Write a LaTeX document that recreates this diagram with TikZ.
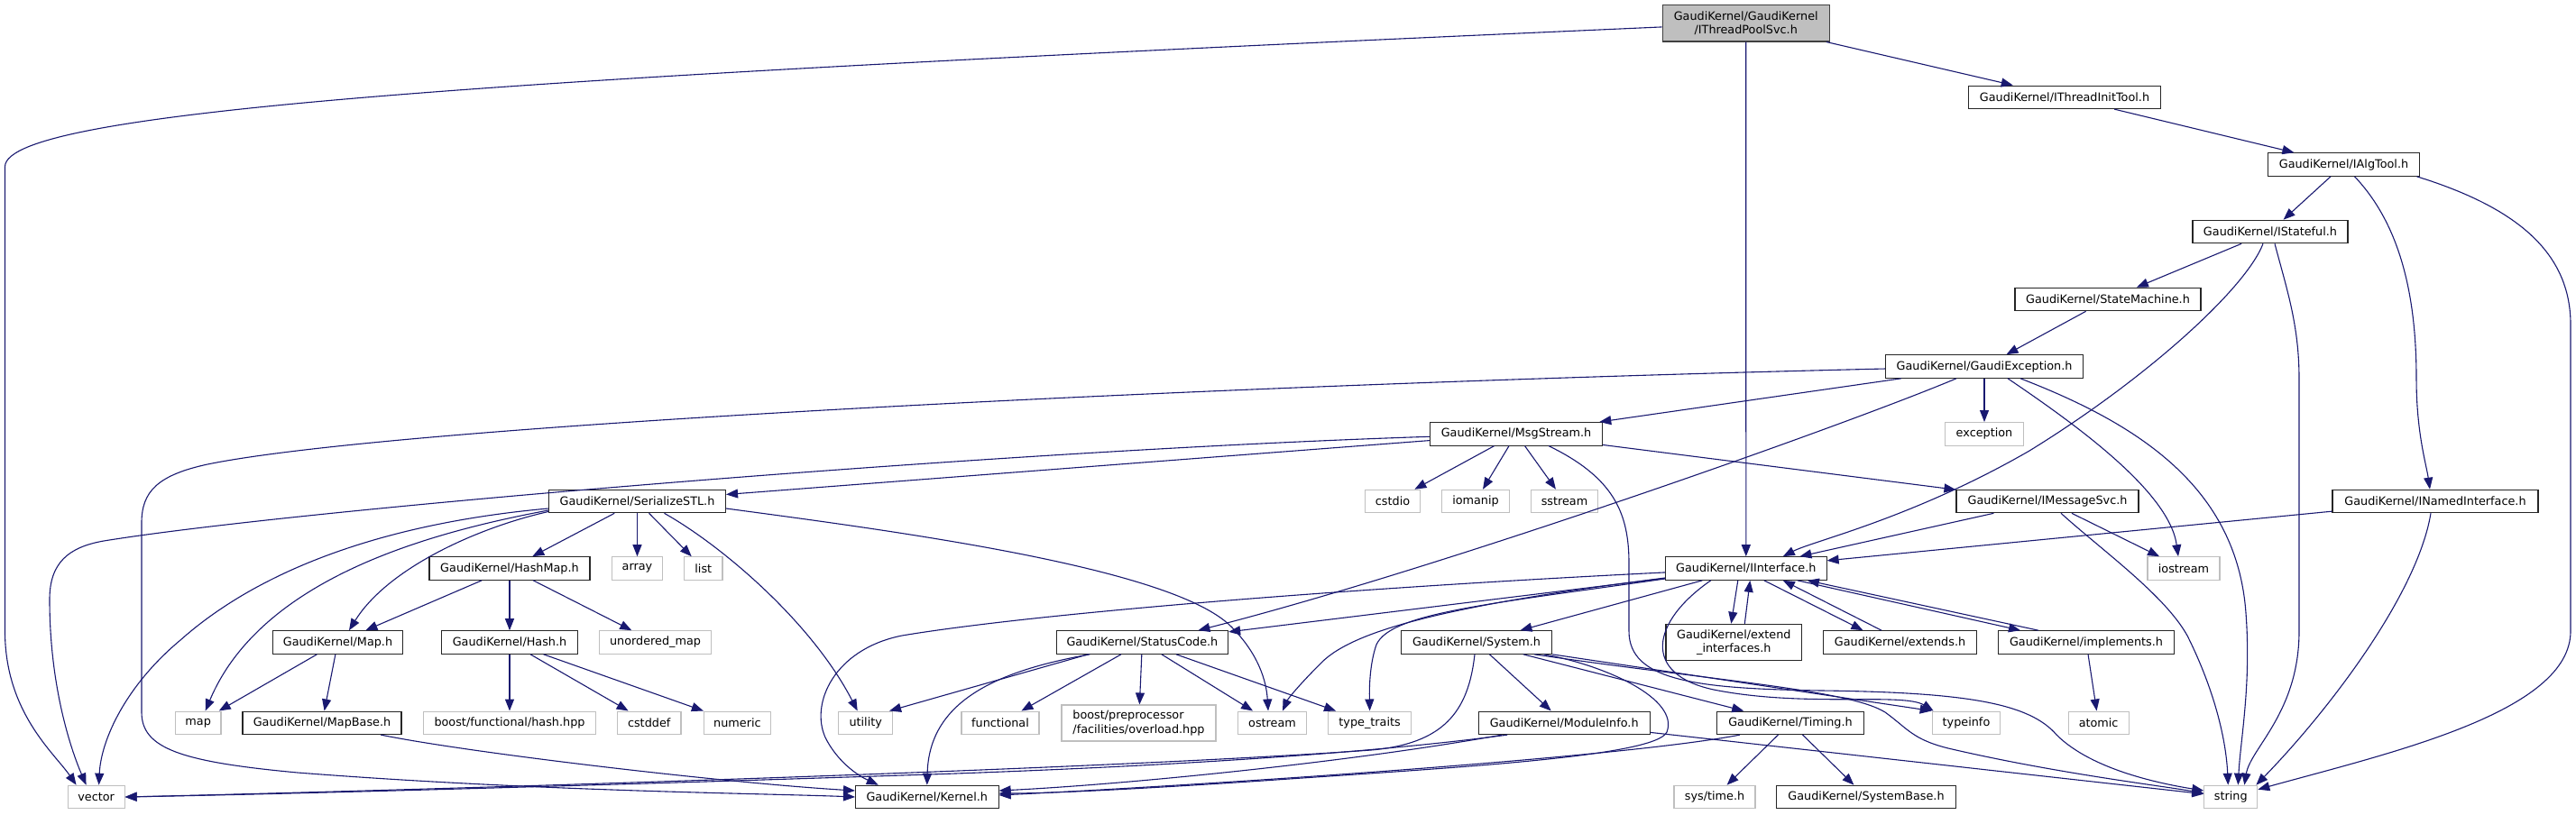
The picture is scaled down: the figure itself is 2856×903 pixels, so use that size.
\documentclass[tikz,border=0pt]{standalone}
\usepackage{fontspec}
\setmainfont{DejaVu Sans}
\usetikzlibrary{arrows.meta}
\definecolor{edgecol}{HTML}{191970}
\definecolor{mainfill}{HTML}{BFBFBF}
\definecolor{mainborder}{HTML}{404040}
\definecolor{grayborder}{HTML}{BFBFBF}
\begin{document}
\begin{tikzpicture}[x=1pt,y=-1pt,
  nb/.style={draw=black!85, line width=1.1pt, fill=white, inner sep=0pt, minimum height=25.5pt, text=black, font=\fontsize{12.8}{15.3}\selectfont},
  ng/.style={nb, draw=grayborder},
  conn/.style={draw=edgecol, line width=1.1pt, -{Triangle[length=13pt,width=10pt]}}]
\useasboundingbox (0,0) rectangle (2856,903);
% nodes
\node[nb, fill=mainfill, draw=mainborder, minimum width=185pt, minimum height=40.3pt, align=center] (TP) at (1935.7,25.8) {GaudiKernel/GaudiKernel\\/IThreadPoolSvc.h};
\node[nb, minimum width=213pt] (ITT) at (2289,107.8) {GaudiKernel/IThreadInitTool.h};
\node[nb, minimum width=168pt] (IAT) at (2598.5,182.5) {GaudiKernel/IAlgTool.h};
\node[nb, minimum width=172pt] (IST) at (2517,257) {GaudiKernel/IStateful.h};
\node[nb, minimum width=206pt] (SM) at (2337,332) {GaudiKernel/StateMachine.h};
\node[nb, minimum width=219pt] (GE) at (2200,406.5) {GaudiKernel/GaudiException.h};
\node[ng, minimum width=86.5pt] (exc) at (2200,481.3) {exception};
\node[nb, minimum width=191pt] (MS) at (1681,481.3) {GaudiKernel/MsgStream.h};
\node[ng, minimum width=61.4pt] (cstdio) at (1544,556) {cstdio};
\node[ng, minimum width=75pt] (iomanip) at (1636,556) {iomanip};
\node[ng, minimum width=74.7pt] (sstream) at (1734.5,556) {sstream};
\node[nb, minimum width=196pt] (SSTL) at (706.5,556) {GaudiKernel/SerializeSTL.h};
\node[nb, minimum width=202pt] (IMS) at (2270,556) {GaudiKernel/IMessageSvc.h};
\node[nb, minimum width=228pt] (INI) at (2700,556) {GaudiKernel/INamedInterface.h};
\node[ng, minimum width=56pt] (array) at (706.5,630.5) {array};
\node[ng, minimum width=42.4pt] (list) at (779.8,630.5) {list};
\node[nb, minimum width=178pt] (HM) at (565,630.5) {GaudiKernel/HashMap.h};
\node[nb, minimum width=178.5pt] (II) at (1935.8,630.5) {GaudiKernel/IInterface.h};
\node[ng, minimum width=80pt] (iostream) at (2421,630.5) {iostream};
\node[nb, minimum width=144pt] (MapH) at (374.5,712.5) {GaudiKernel/Map.h};
\node[nb, minimum width=151pt] (Hash) at (565,712.5) {GaudiKernel/Hash.h};
\node[ng, minimum width=124pt] (umap) at (726.5,712.5) {unordered\_map};
\node[nb, minimum width=190.4pt] (SC) at (1266.4,712.5) {GaudiKernel/StatusCode.h};
\node[nb, minimum width=167pt] (Sys) at (1637,712.5) {GaudiKernel/System.h};
\node[nb, minimum width=150.7pt, minimum height=40pt, align=center] (EI) at (1922.3,712.3) {GaudiKernel/extend\\\_interfaces.h};
\node[nb, minimum width=169.4pt] (Ext) at (2106.5,712.5) {GaudiKernel/extends.h};
\node[nb, minimum width=195pt] (Impl) at (2313,712.5) {GaudiKernel/implements.h};
\node[ng, minimum width=50.5pt] (map) at (219.7,801.8) {map};
\node[nb, minimum width=176pt] (MB) at (357,801.8) {GaudiKernel/MapBase.h};
\node[ng, minimum width=191pt] (bfh) at (565,801.8) {boost/functional/hash.hpp};
\node[ng, minimum width=70.5pt] (cstddef) at (719.7,801.8) {cstddef};
\node[ng, minimum width=74.7pt] (numeric) at (817.4,801.8) {numeric};
\node[ng, minimum width=59.6pt] (utility) at (959.7,801.8) {utility};
\node[ng, minimum width=86pt] (functional) at (1109,801.8) {functional};
\node[ng, minimum width=171pt, minimum height=40pt, align=left] (bpp) at (1262.5,802) {boost/preprocessor\\/facilities/overload.hpp};
\node[ng, minimum width=76pt] (ostream) at (1410.5,801.8) {ostream};
\node[ng, minimum width=92pt] (tt) at (1518.6,801.8) {type\_traits};
\node[nb, minimum width=190pt] (MI) at (1734.2,801.8) {GaudiKernel/ModuleInfo.h};
\node[nb, minimum width=163pt] (Tim) at (1985,801.8) {GaudiKernel/Timing.h};
\node[ng, minimum width=75.6pt] (typeinfo) at (2180,801.8) {typeinfo};
\node[ng, minimum width=67pt] (atomic) at (2326.6,801.8) {atomic};
\node[ng, minimum width=63pt] (vector) at (106.6,884) {vector};
\node[nb, minimum width=158.5pt] (Kern) at (1027.8,884) {GaudiKernel/Kernel.h};
\node[ng, minimum width=90pt] (systime) at (1901,884) {sys/time.h};
\node[nb, minimum width=199pt] (SB) at (2069,884) {GaudiKernel/SystemBase.h};
\node[ng, minimum width=59pt] (string) at (2473.3,884) {string};
% edges: IThreadPoolSvc
\draw[conn] (TP) .. controls (600,85) and (5.5,120) .. (5.5,185) -- (5.5,700) .. controls (5.5,790) and (60,835) .. ([xshift=-22pt]vector.north);
\draw[conn] (TP) -- (ITT);
\draw[conn] (TP) -- (II);
\draw[conn] (ITT) -- (IAT);
% IAlgTool
\draw[conn] (IAT) -- (IST);
\draw[conn] ([xshift=12pt]IAT.south) .. controls (2662,250) and (2679,330) .. (2679,420) .. controls (2679,480) and (2690,515) .. ([xshift=-6pt]INI.north);
\draw[conn] ([xshift=81pt]IAT.south) .. controls (2790,230) and (2850,280) .. (2850,360) -- (2850,700) .. controls (2850,790) and (2650,835) .. (string);
% IStateful
\draw[conn] (IST) -- (SM);
\draw[conn] ([xshift=-8pt]IST.south) .. controls (2490,320) and (2380,420) .. (2250,500) .. controls (2120,575) and (2010,600) .. ([xshift=41pt]II.north);
\draw[conn] ([xshift=5pt]IST.south) .. controls (2535,320) and (2549,360) .. (2549,420) -- (2549,700) .. controls (2549,790) and (2495,830) .. ([xshift=15pt]string.north);
\draw[conn] (SM) -- (GE);
% GaudiException
\draw[conn] (GE) -- (MS);
\draw[conn] (GE) -- (exc);
\draw[conn] ([xshift=-31pt]GE.south) .. controls (2050,470) and (1600,630) .. ([xshift=62pt]SC.north);
\draw[conn] (GE) .. controls (1400,425) and (450,470) .. (230,515) .. controls (175,527) and (157,545) .. (157,580) -- (157,790) .. controls (157,830) and (200,845) .. (330,857) .. controls (600,878) and (850,880) .. (Kern.west);
\draw[conn] ([xshift=26pt]GE.south) .. controls (2300,470) and (2405,545) .. ([xshift=-6pt]iostream.north);
\draw[conn] ([xshift=40pt]GE.south) .. controls (2370,470) and (2480,540) .. (2490,680) .. controls (2496,760) and (2484,820) .. ([xshift=8pt]string.north);
% MsgStream
\draw[conn] (MS) -- (SSTL);
\draw[conn] ([yshift=-3pt]MS.west) .. controls (1100,500) and (330,565) .. (115,600) .. controls (75,607) and (55,625) .. (55,665) .. controls (55,760) and (78,830) .. ([xshift=-11pt]vector.north);
\draw[conn] (MS) -- (cstdio);
\draw[conn] (MS) -- (iomanip);
\draw[conn] (MS) -- (sstream);
\draw[conn] (MS) -- (IMS);
\draw[conn] ([xshift=36pt]MS.south) .. controls (1790,530) and (1806,570) .. (1806,625) -- (1806,700) .. controls (1806,755) and (1880,764) .. (2020,766) .. controls (2180,768) and (2250,780) .. (2280,815) .. controls (2320,855) and (2400,870) .. ([yshift=7pt]string.west);
% SerializeSTL
\draw[conn] ([yshift=-8pt]SSTL.west) .. controls (430,580) and (290,630) .. (200,710) .. controls (140,760) and (112,820) .. ([xshift=3pt]vector.north);
\draw[conn] ([yshift=-10pt]SSTL.west) .. controls (480,590) and (290,640) .. ([xshift=8pt]map.north);
\draw[conn] ([yshift=-11.5pt]SSTL.west) .. controls (530,585) and (430,630) .. ([xshift=12.5pt]MapH.north);
\draw[conn] (SSTL) -- (HM);
\draw[conn] (SSTL) -- (array);
\draw[conn] (SSTL) -- (list);
\draw[conn] ([xshift=30pt]SSTL.south) .. controls (800,605) and (900,690) .. ([xshift=-9pt]utility.north);
\draw[conn] ([yshift=-8pt]SSTL.east) .. controls (1000,590) and (1300,630) .. (1365,695) .. controls (1395,725) and (1404,755) .. ([xshift=-4.5pt]ostream.north);
% HashMap, Hash, Map
\draw[conn] (HM) -- (MapH);
\draw[conn] (HM) -- (Hash);
\draw[conn] (HM) -- (umap);
\draw[conn] (Hash) -- (bfh);
\draw[conn] (Hash) -- (cstddef);
\draw[conn] (Hash) -- (numeric);
\draw[conn] (MapH) -- (map);
\draw[conn] (MapH) -- (MB);
\draw[conn] (MB) .. controls (520,835) and (800,868) .. ([yshift=7pt]Kern.west);
% IMessageSvc, INamedInterface
\draw[conn] (IMS) -- (II);
\draw[conn] (IMS) -- (iostream);
\draw[conn] ([xshift=15pt]IMS.south) .. controls (2330,610) and (2400,660) .. (2425,705) .. controls (2455,765) and (2468,820) .. ([xshift=-3pt]string.north);
\draw[conn] (INI) -- (II);
\draw[conn] ([xshift=-5pt]INI.south) .. controls (2680,660) and (2580,790) .. ([xshift=-2pt]string.north east);
% IInterface
\draw[conn] (II) .. controls (1500,652) and (1150,680) .. (1000,705) .. controls (925,720) and (898,780) .. (915,818) .. controls (930,848) and (955,862) .. ([xshift=-54pt]Kern.north);
\draw[conn] (II) -- (SC);
\draw[conn] ([yshift=-11.5pt]II.west) .. controls (1650,670) and (1542,680) .. (1526,715) .. controls (1519,735) and (1518,760) .. (tt.north);
\draw[conn] ([yshift=-10.5pt]II.west) .. controls (1600,672) and (1500,700) .. (1465,735) .. controls (1440,760) and (1428,775) .. ([xshift=11.5pt]ostream.north);
\draw[conn] (II) -- (Sys);
\draw[conn] ([xshift=-9pt]II.south) -- ([xshift=-3pt]EI.north);
\draw[conn] ([xshift=12pt]EI.north) -- ([xshift=4.5pt]II.south);
\draw[conn] ([xshift=20pt]II.south) -- ([xshift=-41pt]Ext.north);
\draw[conn] ([xshift=-20.5pt]Ext.north) -- ([xshift=41pt]II.south);
\draw[conn] ([xshift=57pt]II.south) -- ([xshift=-73pt]Impl.north);
\draw[conn] ([xshift=-53pt]Impl.north) -- ([xshift=68pt]II.south);
\draw[conn] ([xshift=-39pt]II.south) .. controls (1830,690) and (1820,748) .. (1900,765) .. controls (2000,785) and (2110,768) .. ([xshift=2pt]typeinfo.north west);
% StatusCode
\draw[conn] ([xshift=-60pt]SC.south) -- ([xshift=-4pt]utility.north east);
\draw[conn] ([xshift=-58pt]SC.south) .. controls (1100,745) and (1030,780) .. (Kern.north);
\draw[conn] (SC) -- (functional);
\draw[conn] (SC) -- (bpp);
\draw[conn] (SC) -- (ostream);
\draw[conn] (SC) -- (tt);
% System
\draw[conn] (Sys) -- (MI);
\draw[conn] (Sys) -- (Tim);
\draw[conn] (Sys.south east) -- (typeinfo.north west);
\draw[conn] ([xshift=-20pt]Sys.south east) .. controls (1900,755) and (2050,765) .. (2090,790) .. controls (2115,808) and (2120,820) .. (2160,830) .. controls (2280,858) and (2400,872) .. ([yshift=4pt]string.west);
\draw[conn] ([xshift=-2pt]Sys.south) .. controls (1628,790) and (1600,825) .. (1520,832) .. controls (1200,855) and (400,878) .. (vector.east);
\draw[conn] (Sys) .. controls (1780,738) and (1862,775) .. (1848,812) .. controls (1835,840) and (1600,852) .. (1400,866) .. controls (1250,876) and (1160,880) .. ([yshift=4pt]Kern.east);
% ModuleInfo
\draw[conn] (MI) -- (string);
\draw[conn] ([xshift=-63pt]MI.south) .. controls (1500,838) and (1250,852) .. (1000,860) .. controls (700,870) and (350,880) .. (vector.east);
\draw[conn] ([xshift=-69pt]MI.south) .. controls (1500,845) and (1250,870) .. ([yshift=7pt]Kern.east);
% Timing
\draw[conn] ([xshift=-56pt]Tim.south) .. controls (1800,840) and (1350,870) .. ([yshift=2pt]Kern.east);
\draw[conn] (Tim) -- (systime);
\draw[conn] (Tim) -- (SB);
\draw[conn] (Impl) -- (atomic);
\end{tikzpicture}
\end{document}
